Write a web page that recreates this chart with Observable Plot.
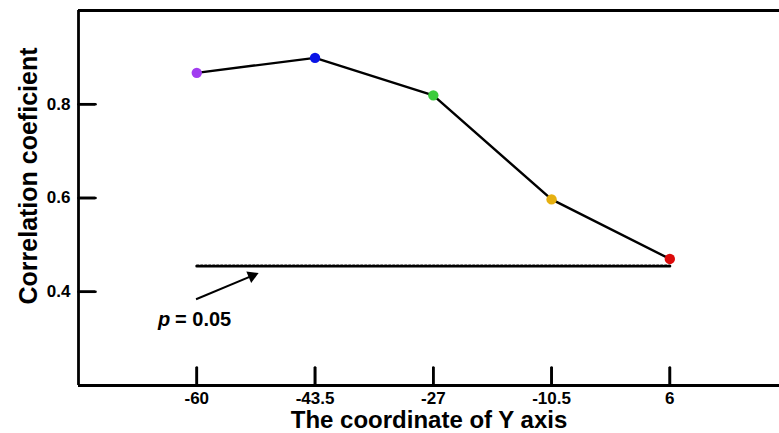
<!DOCTYPE html>
<html>
<head>
<meta charset="utf-8">
<script src="https://cdn.jsdelivr.net/npm/d3@7"></script>
<script src="https://cdn.jsdelivr.net/npm/@observablehq/plot@0.6"></script>
<style>
  html, body { margin: 0; padding: 0; background: #fff; overflow: hidden; }
  svg { display: block; }
</style>
</head>
<body>
<div id="chart"></div>
<script>
// Data
const coords = [-60, -43.5, -27, -10.5, 6];
const corr = [0.867, 0.899, 0.819, 0.597, 0.470];
const pointColors = ["#a13cf0", "#0a14e6", "#3ccc3c", "#e6b010", "#dc0a0a"];
const xTicks = [-60, -43.5, -27, -10.5, 6];
const yTicks = [0.4, 0.6, 0.8];
const thresholdX = [-60, 6];
const thresholdY = 0.455;
const arrowFrom = {x: -60.1, y: 0.384};
const arrowTo = {x: -51.8, y: 0.437};
const pLabel = {x: -65.4, y: 0.34};
const xLabel = "The coordinate of Y axis";
const yLabel = "Correlation coeficient";

const pts = coords.map((c, i) => ({x: c, y: corr[i], color: pointColors[i]}));
const thr = thresholdX.map(x => ({x, y: thresholdY}));

const font = "'Liberation Sans', Arial, Helvetica, sans-serif";
const xDomain = [-76.5, 21.3];
const yDomain = [0.2, 1.0];
const plotW = 779 - 78, plotH = 433 - 10 - 48;
const xTickLen = (yDomain[1] - yDomain[0]) * 18 / plotH;
const yTickLen = (xDomain[1] - xDomain[0]) * 17 / plotW;
// tick segments as point pairs (one series per tick)
const tickPts = [
  ...xTicks.flatMap((t, i) => [{id: "x" + i, x: t, y: yDomain[0]}, {id: "x" + i, x: t, y: yDomain[0] + xTickLen}]),
  ...yTicks.flatMap((t, i) => [{id: "y" + i, x: xDomain[0], y: t}, {id: "y" + i, x: xDomain[0] + yTickLen, y: t}])
];
const xTickSegs = xTicks.map(t => ({x: t, y1: yDomain[0], y2: yDomain[0] + xTickLen}));
const yTickSegs = yTicks.map(t => ({y: t, x1: xDomain[0], x2: xDomain[0] + yTickLen}));

const chart = Plot.plot({
  width: 779,
  height: 433,
  marginLeft: 78,
  marginRight: 0,
  marginTop: 10,
  marginBottom: 48,
  style: {fontFamily: font, background: "#fff", color: "#000", overflow: "visible"},
  x: {domain: xDomain, axis: null},
  y: {domain: yDomain, axis: null},
  marks: [
    // threshold dotted line
    Plot.line(thr, {x: "x", y: "y", stroke: "#000", strokeWidth: 3, strokeDasharray: "2,2"}),
    // data line
    Plot.line(pts, {x: "x", y: "y", stroke: "#000", strokeWidth: 2.4}),
    Plot.dot(pts, {x: "x", y: "y", r: 5.2, fill: "color", stroke: null}),
    // arrow: shaft + filled head
    Plot.link([{x1: arrowFrom.x, y1: arrowFrom.y, x2: arrowTo.x, y2: arrowTo.y}], {
      x1: "x1", y1: "y1", x2: "x2", y2: "y2", stroke: "#000", strokeWidth: 2
    }),
    Plot.dot([arrowTo], {x: "x", y: "y", symbol: "triangle", r: 4.6, rotate: 67, dx: -3.5, dy: 1.5, fill: "#000", stroke: null}),
    // p = 0.05
    Plot.text([pLabel], {x: "x", y: "y", text: () => "p", textAnchor: "start", fontSize: 20, fontWeight: "bold", fontStyle: "italic", fill: "#000"}),
    Plot.text([pLabel], {x: "x", y: "y", text: () => "= 0.05", textAnchor: "start", dx: 17, fontSize: 20, fontWeight: "bold", fill: "#000"}),
    // tick labels
    Plot.text(xTicks, {x: d => d, text: d => String(d), frameAnchor: "bottom", lineAnchor: "top", dy: 6, fontSize: 17, fontWeight: "bold", fill: "#000"}),
    Plot.text(yTicks, {y: d => d, text: d => d.toFixed(1), frameAnchor: "left", textAnchor: "end", dx: -8, fontSize: 17, fontWeight: "bold", fill: "#000"}),
    // axis titles
    Plot.text([xLabel], {frameAnchor: "bottom", lineAnchor: "middle", dy: 35, text: d => d, fontSize: 24, fontWeight: "bold", fill: "#000"}),
    Plot.text([yLabel], {frameAnchor: "left", textAnchor: "middle", lineAnchor: "middle", dx: -50, dy: -22, rotate: -90, text: d => d, fontSize: 25, fontWeight: "bold", fill: "#000"}),
    // inward ticks (drawn last)
    Plot.line(tickPts, {x: "x", y: "y", z: "id", stroke: "#000", strokeWidth: 2.6}),
    Plot.ruleX(xTickSegs, {x: "x", y1: "y1", y2: "y2", stroke: "#000", strokeWidth: 2.6}),
    Plot.ruleY(yTickSegs, {y: "y", x1: "x1", x2: "x2", stroke: "#000", strokeWidth: 2.6}),
    // frame lines
    Plot.ruleY([yDomain[1]], {stroke: "#000", strokeWidth: 2.8}),
    Plot.ruleY([yDomain[0]], {stroke: "#000", strokeWidth: 2.8}),
    Plot.ruleX([xDomain[0]], {stroke: "#000", strokeWidth: 2.8})
  ]
});
document.getElementById("chart").appendChild(chart);
</script>
</body>
</html>
